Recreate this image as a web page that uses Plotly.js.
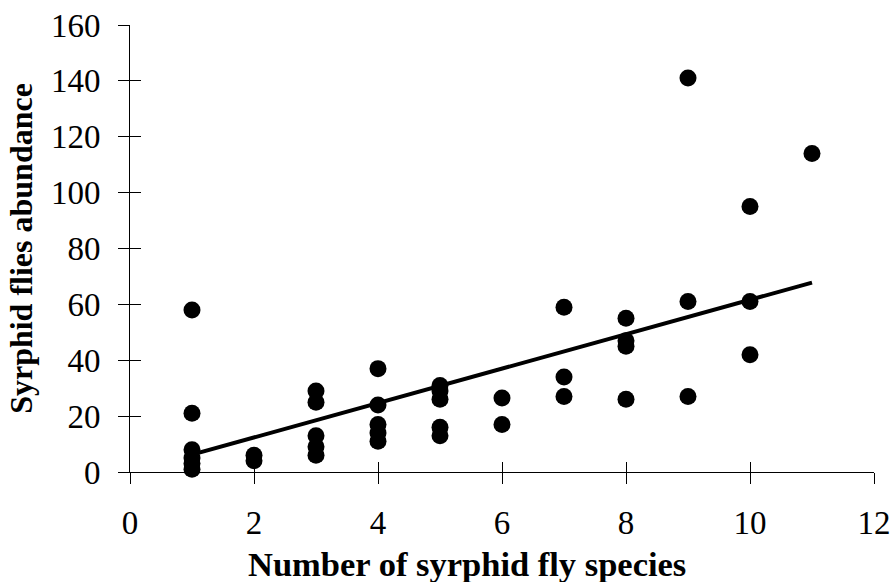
<!DOCTYPE html>
<html>
<head>
<meta charset="utf-8">
<script src="https://cdn.plot.ly/plotly-3.0.1.min.js"></script>
<style>html,body{margin:0;padding:0;background:#fff;}#chart{width:894px;height:582px;}</style>
</head>
<body>
<div id="chart"></div>
<script>
// Number of syrphid fly species (x) and syrphid flies abundance (y)
const speciesCount = [1,1,1,1,1,1, 2,2, 3,3,3,3,3, 4,4,4,4,4, 5,5,5,5,5, 6,6, 7,7,7, 8,8,8,8, 9,9,9, 10,10,10, 11];
const abundance   = [58,21,8,5,3,1, 6,4, 29,25,13,9,6, 37,24,17,14,11, 31,29,26,16,13, 26.5,17, 59,34,27, 55,47,45,26, 141,61,27, 95,61,42, 114];
// Trend line endpoints
const trendX = [1, 11];
const trendY = [6.2, 67.8];
const xTicks = [0,2,4,6,8,10,12];
const yTicks = [0,20,40,60,80,100,120,140,160];
const xTitle = 'Number of syrphid fly species';
const yTitle = 'Syrphid flies abundance';

const serif = "Liberation Serif, Times New Roman, serif";

const traces = [
  {
    x: speciesCount, y: abundance, type: 'scatter', mode: 'markers',
    marker: {color: '#000', size: 17, line: {width: 0}},
    cliponaxis: false, hoverinfo: 'x+y', showlegend: false
  },
  {
    x: trendX, y: trendY, type: 'scatter', mode: 'lines',
    line: {color: '#000', width: 4},
    cliponaxis: false, showlegend: false
  },
  {
    x: speciesCount, y: abundance, type: 'scatter', mode: 'markers',
    xaxis: 'x2', yaxis: 'y2', marker: {opacity: 0}, hoverinfo: 'skip', showlegend: false
  }
];

const axisCommon = {
  showgrid: false, zeroline: false, showline: true,
  linecolor: '#000', linewidth: 1,
  tickcolor: '#000', tickwidth: 1, ticklen: 11,
  tickfont: {family: serif, size: 33, color: '#000'}
};

const layout = {
  width: 894, height: 582,
  margin: {l: 130, r: 20, t: 25, b: 110},
  paper_bgcolor: '#fff', plot_bgcolor: '#fff',
  showlegend: false,
  xaxis: Object.assign({}, axisCommon, {
    range: [0, 12], tickvals: xTicks, ticktext: xTicks.map(String),
    ticks: 'outside', ticklabelstandoff: 10
  }),
  yaxis: Object.assign({}, axisCommon, {
    range: [0, 160], tickvals: yTicks, ticktext: yTicks.map(String),
    ticks: 'outside', ticklabelstandoff: 11,
    title: {text: '<b>' + yTitle + '</b>', font: {family: serif, size: 32, color: '#000'}, standoff: 8}
  }),
  xaxis2: {
    overlaying: 'x', anchor: 'y2', side: 'bottom', range: [0, 12], tickvals: xTicks,
    showticklabels: false, ticks: 'inside', ticklen: 10, tickcolor: '#000', tickwidth: 1,
    showgrid: false, zeroline: false, showline: false
  },
  yaxis2: {
    overlaying: 'y', anchor: 'x2', side: 'left', range: [0, 160], tickvals: yTicks,
    showticklabels: false, ticks: 'inside', ticklen: 11, tickcolor: '#000', tickwidth: 1,
    showgrid: false, zeroline: false, showline: false
  },
  annotations: [{
    text: '<b>' + xTitle + '</b>', xref: 'paper', yref: 'paper',
    x: 0.4536, y: -0.2526, xanchor: 'center', yanchor: 'bottom',
    showarrow: false, font: {family: serif, size: 34.5, color: '#000'}
  }]
};

Plotly.newPlot('chart', traces, layout, {displayModeBar: false, staticPlot: true});
</script>
</body>
</html>
